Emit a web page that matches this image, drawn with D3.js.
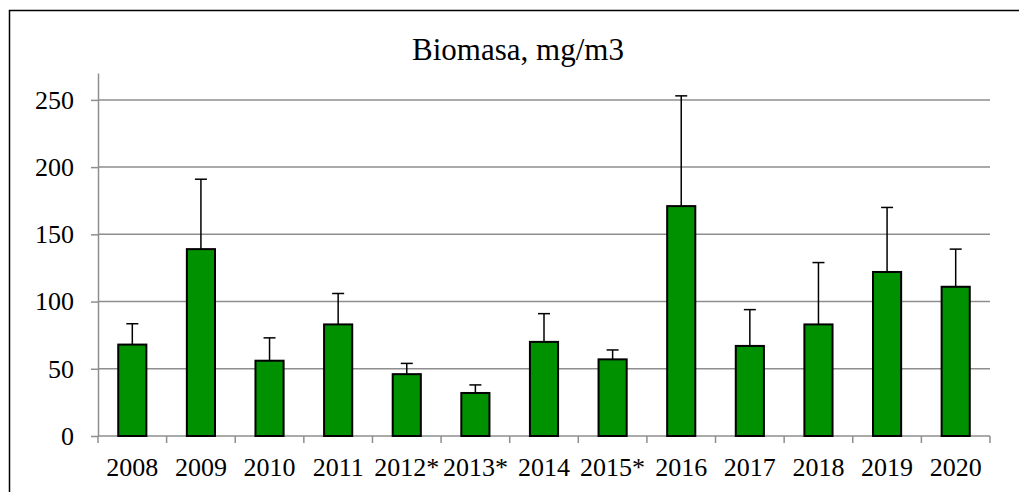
<!DOCTYPE html>
<html>
<head>
<meta charset="utf-8">
<script src="https://cdn.jsdelivr.net/npm/d3@7/dist/d3.min.js"></script>
<style>
  body { margin: 0; background: #fff; }
  text { font-family: "Liberation Serif", "Times New Roman", serif; fill: #000; }
</style>
</head>
<body>
<div id="chart"></div>
<script>
// categories and values
var years = ["2008", "2009", "2010", "2011", "2012*", "2013*", "2014", "2015*", "2016", "2017", "2018", "2019", "2020"];
var means = [68, 139, 56, 83, 46, 32, 70, 57, 171, 67, 83, 122, 111];
var errors = [15.5, 52, 17, 23, 8, 6, 21, 7, 82, 27, 46, 48, 28];
var yTicks = [0, 50, 100, 150, 200, 250];
var title = "Biomasa, mg/m3";

var width = 1019, height = 492;
var margin = { top: 73, right: 29, bottom: 56, left: 98 };

var svg = d3.select("#chart").append("svg")
  .attr("width", width)
  .attr("height", height);

// outer frame (only the top and left edges are visible)
svg.append("rect")
  .attr("x", 9.5).attr("y", 10.5)
  .attr("width", width + 20).attr("height", height + 20)
  .attr("fill", "none")
  .attr("stroke", "#000")
  .attr("stroke-width", 1.5);

var x = d3.scaleBand()
  .domain(years)
  .range([margin.left, width - margin.right])
  .paddingInner(0.59)
  .paddingOuter(0.295);

var y = d3.scaleLinear()
  .domain([0, 270])
  .range([height - margin.bottom, margin.top]);

// gridlines
svg.append("g").selectAll("line")
  .data(yTicks.slice(1))
  .enter().append("line")
  .attr("x1", margin.left).attr("x2", width - margin.right)
  .attr("y1", function (d) { return y(d); })
  .attr("y2", function (d) { return y(d); })
  .attr("stroke", "#8e8e8e")
  .attr("stroke-width", 1.5);

// y axis
var yAxis = d3.axisLeft(y).tickValues(yTicks).tickSize(7).tickPadding(17).tickSizeOuter(0);
var gy = svg.append("g")
  .attr("transform", "translate(" + margin.left + ",0)")
  .call(yAxis);
gy.selectAll(".tick line").attr("stroke", "#8e8e8e").attr("stroke-width", 1.5);
gy.select(".domain").attr("stroke", "#8e8e8e").attr("stroke-width", 1.5);
gy.selectAll("text").attr("font-size", "26px").style("font-family", "Liberation Serif");

// x axis: baseline, ticks between categories, labels
var xAxisY = y(0);
var half = (x.step() - x.bandwidth()) / 2;
var boundaries = years.map(function (d) { return x(d) - half; });
boundaries.push(x(years[years.length - 1]) + x.bandwidth() + half);

var gx = svg.append("g");
gx.append("line")
  .attr("x1", margin.left).attr("x2", width - margin.right)
  .attr("y1", xAxisY).attr("y2", xAxisY)
  .attr("stroke", "#8e8e8e").attr("stroke-width", 1.5);
gx.selectAll(".xtick")
  .data(boundaries)
  .enter().append("line")
  .attr("class", "xtick")
  .attr("x1", function (d) { return d; }).attr("x2", function (d) { return d; })
  .attr("y1", xAxisY).attr("y2", xAxisY + 7)
  .attr("stroke", "#8e8e8e").attr("stroke-width", 1.5);
gx.selectAll(".xlabel")
  .data(years)
  .enter().append("text")
  .attr("class", "xlabel")
  .attr("x", function (d) { return x(d) + x.bandwidth() / 2; })
  .attr("y", xAxisY + 40)
  .attr("text-anchor", "middle")
  .attr("font-size", "26px")
  .text(function (d) { return d; });

// error bars (upper only), drawn under the bars
var capW = 12;
var errG = svg.append("g");
errG.selectAll(".err")
  .data(years)
  .enter().append("line")
  .attr("class", "err")
  .attr("x1", function (d) { return x(d) + x.bandwidth() / 2; })
  .attr("x2", function (d) { return x(d) + x.bandwidth() / 2; })
  .attr("y1", function (d, i) { return y(means[i]); })
  .attr("y2", function (d, i) { return y(means[i] + errors[i]); })
  .attr("stroke", "#000").attr("stroke-width", 1.5);
errG.selectAll(".cap")
  .data(years)
  .enter().append("line")
  .attr("class", "cap")
  .attr("x1", function (d) { return x(d) + x.bandwidth() / 2 - capW / 2; })
  .attr("x2", function (d) { return x(d) + x.bandwidth() / 2 + capW / 2; })
  .attr("y1", function (d, i) { return y(means[i] + errors[i]); })
  .attr("y2", function (d, i) { return y(means[i] + errors[i]); })
  .attr("stroke", "#000").attr("stroke-width", 1.5);

// bars
svg.append("g").selectAll("rect")
  .data(years)
  .enter().append("rect")
  .attr("x", function (d) { return x(d); })
  .attr("y", function (d, i) { return y(means[i]); })
  .attr("width", x.bandwidth())
  .attr("height", function (d, i) { return y(0) - y(means[i]); })
  .attr("fill", "#009100")
  .attr("stroke", "#000")
  .attr("stroke-width", 2);

// title
svg.append("text")
  .attr("x", 518)
  .attr("y", 60)
  .attr("text-anchor", "middle")
  .attr("font-size", "31px")
  .text(title);
</script>
</body>
</html>
